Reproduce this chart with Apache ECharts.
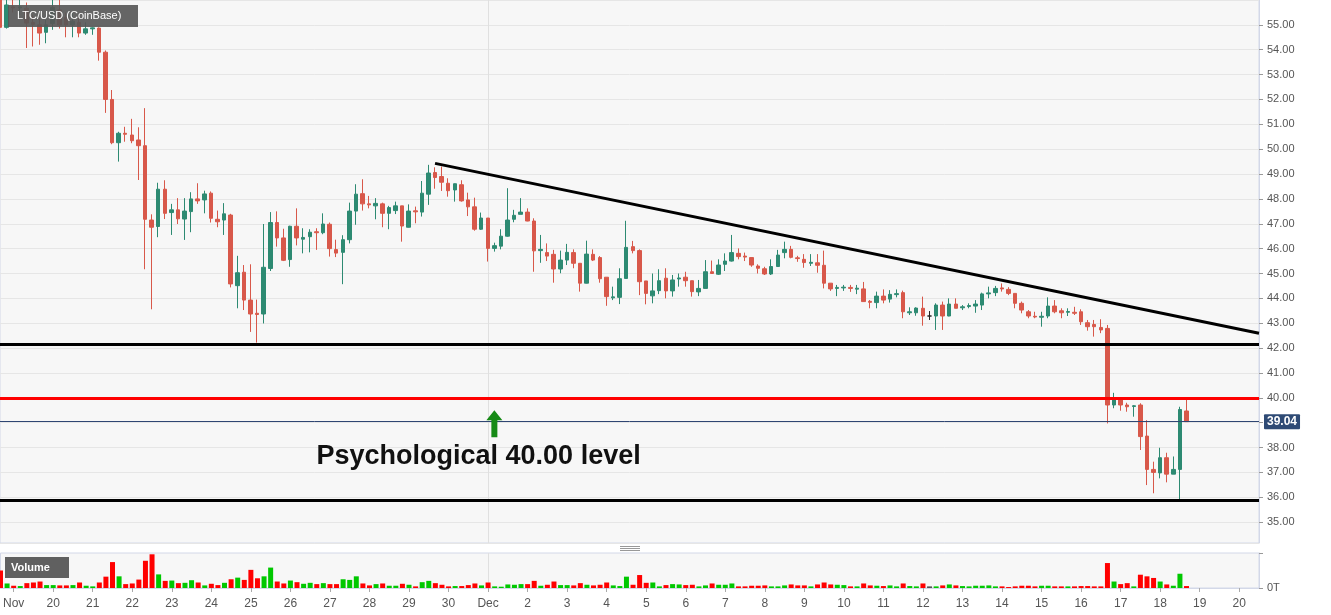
<!DOCTYPE html>
<html><head><meta charset="utf-8">
<script src="https://cdn.jsdelivr.net/npm/echarts@6/dist/echarts.min.js"></script>
<style>html,body{margin:0;padding:0;background:#fff}#c{width:1331px;height:615px}</style>
</head><body><div id="c"></div>
<script>
// ---- tick labels (one per day, Nov 19 .. Dec 20) ----
const dayLabels = ['Nov','20','21','22','23','24','25','26','27','28','29','30',
  'Dec','2','3','4','5','6','7','8','9','10','11','12','13','14','15','16','17','18','19','20'];

// ---- 4-hour candles, first candle = Nov 18 16:00, last = Dec 18 16:00 ----
const opens = [
  56.0, 54.9,
  55.72, 55.68, 55.67, 55.1, 55.0, 54.7,
  55.05, 55.6, 55.3, 55.0, 55.1, 54.67,
  54.84, 54.87, 53.9, 52.0, 50.26, 50.64,
  50.57, 50.37, 50.14, 47.15, 46.89, 48.39,
  47.45, 47.56, 47.19, 47.49, 48.0, 47.96,
  48.23, 47.18, 47.15, 47.35, 44.51, 45.05,
  43.93, 43.4, 43.37, 45.2, 47.05, 46.43,
  45.56, 46.9, 46.38, 46.48, 46.68, 46.64,
  46.98, 45.96, 45.85, 46.36, 47.51, 48.21,
  47.8, 47.72, 47.8, 47.42, 47.53, 47.72,
  46.86, 47.52, 47.47, 48.19, 49.06, 48.9,
  48.63, 48.36, 48.57, 47.96, 47.68, 46.78,
  47.23, 46.01, 46.1, 46.5, 47.18, 47.38,
  47.47, 47.11, 45.92, 45.84, 45.77, 45.18,
  45.54, 45.84, 45.41, 44.61, 45.77, 45.64,
  44.85, 44.02, 44.04, 44.8, 46.08, 45.92,
  44.7, 44.1, 44.31, 44.81, 44.3, 44.78,
  44.85, 44.71, 44.26, 44.4, 45.07, 44.97,
  45.37, 45.5, 45.81, 45.7, 45.64, 45.3,
  45.19, 44.98, 45.28, 45.84, 45.97, 45.63,
  45.57, 45.41, 45.43, 45.33, 44.61, 44.4,
  44.42, 44.44, 44.37, 44.38, 43.88, 43.83,
  44.09, 43.97, 44.15, 44.23, 43.42, 43.42,
  43.6, 43.29, 43.29, 43.73, 43.29, 43.77,
  43.62, 43.67, 43.69, 43.73, 44.18, 44.23,
  44.42, 44.36, 44.2, 43.8, 43.46, 43.28,
  43.24, 43.29, 43.69, 43.5, 43.44, 43.44,
  43.46, 43.02, 42.95, 42.83, 42.79, 39.71,
  39.91, 39.71, 39.65, 39.71, 38.46, 37.12,
  36.98, 37.59, 36.93, 37.12, 39.47
];
const closes = [
  54.9, 55.8,
  55.68, 55.72, 55.07, 55.02, 54.67, 55.0,
  55.7, 55.0, 55.0, 55.15, 54.67, 54.84,
  54.88, 53.9, 52.0, 50.26, 50.64, 50.6,
  50.34, 50.14, 47.18, 46.86, 48.39, 47.42,
  47.56, 47.2, 47.51, 48.0, 47.92, 48.2,
  47.22, 47.08, 47.4, 44.58, 45.03, 43.93,
  43.37, 43.35, 45.25, 47.05, 46.43, 45.53,
  46.9, 46.43, 46.45, 46.66, 46.64, 46.99,
  46.0, 45.82, 46.36, 47.51, 48.19, 47.8,
  47.76, 47.82, 47.42, 47.65, 47.72, 46.91,
  47.51, 47.48, 48.23, 49.04, 48.86, 48.67,
  48.33, 48.61, 47.92, 47.68, 46.78, 47.23,
  46.01, 46.12, 46.5, 47.15, 47.34, 47.47,
  47.11, 45.91, 45.97, 45.7, 45.18, 45.54,
  45.85, 45.41, 44.61, 45.78, 45.54, 44.79,
  44.07, 44.06, 44.79, 46.05, 45.92, 44.67,
  44.2, 44.3, 44.71, 44.3, 44.74, 44.82,
  44.71, 44.27, 44.4, 45.07, 45.0, 45.34,
  45.5, 45.84, 45.68, 45.66, 45.34, 45.21,
  44.98, 45.28, 45.74, 45.97, 45.65, 45.6,
  45.44, 45.45, 45.33, 44.61, 44.38, 44.44,
  44.45, 44.4, 44.41, 43.87, 43.84, 44.09,
  43.93, 44.16, 44.19, 43.46, 43.46, 43.61,
  43.29, 43.29, 43.73, 43.29, 43.77, 43.6,
  43.66, 43.71, 43.77, 44.18, 44.22, 44.4,
  44.38, 44.2, 43.8, 43.53, 43.29, 43.25,
  43.28, 43.69, 43.46, 43.42, 43.47, 43.4,
  43.06, 42.86, 42.86, 42.73, 39.71, 39.91,
  39.71, 39.64, 39.68, 38.44, 37.12, 37.0,
  37.59, 36.93, 37.12, 39.53, 39.04
];
const lows = [
  53.9, 54.85,
  55.5, 55.4, 54.07, 54.13, 54.2, 54.26,
  54.8, 54.85, 54.5, 54.5, 54.5, 54.6,
  54.6, 53.56, 51.46, 50.2, 49.5, 50.3,
  50.24, 48.76, 45.17, 43.56, 46.46, 47.19,
  46.55, 46.99, 46.35, 46.66, 47.8, 47.42,
  47.05, 46.86, 46.55, 44.44, 43.6, 43.53,
  42.65, 42.22, 42.99, 45.1, 46.08, 45.5,
  45.27, 46.13, 45.81, 45.85, 45.95, 46.58,
  45.68, 45.66, 44.57, 46.21, 46.96, 47.53,
  47.62, 47.18, 46.86, 46.78, 47.39, 46.28,
  46.85, 47.02, 47.29, 47.76, 48.41, 48.32,
  48.09, 47.89, 47.89, 47.31, 46.72, 46.75,
  45.48, 45.88, 45.97, 46.48, 47.06, 47.38,
  47.1, 45.07, 45.43, 45.5, 44.63, 45.01,
  45.34, 45.21, 44.27, 44.6, 45.5, 44.63,
  43.7, 43.93, 43.77, 44.8, 45.81, 44.13,
  43.76, 43.8, 44.17, 44.0, 44.07, 44.47,
  44.47, 44.07, 44.09, 44.4, 45.0, 44.94,
  45.1, 45.48, 45.57, 45.5, 45.27, 45.0,
  44.94, 44.94, 45.28, 45.61, 45.61, 45.47,
  45.23, 45.3, 45.03, 44.4, 44.3, 44.09,
  44.3, 44.26, 44.17, 43.87, 43.6, 43.6,
  43.8, 43.83, 44.04, 43.2, 43.33, 43.3,
  42.9, 43.13, 42.73, 42.73, 43.28, 43.6,
  43.53, 43.6, 43.42, 43.53, 44.0, 44.09,
  44.27, 44.13, 43.6, 43.4, 43.2, 43.2,
  42.86, 43.2, 43.4, 43.2, 43.29, 43.33,
  42.93, 42.7, 42.46, 42.6, 38.97, 39.58,
  39.48, 39.44, 39.24, 37.9, 36.49, 36.16,
  36.76, 36.6, 36.93, 35.88, 39.04
];
const highs = [
  56.3, 56.0,
  56.1, 56.1, 55.9, 55.4, 55.3, 55.2,
  56.1, 56.1, 55.5, 55.5, 55.3, 55.1,
  54.9, 54.9, 53.97, 52.38, 50.7, 50.9,
  51.22, 50.88, 51.65, 47.38, 48.65, 48.75,
  47.8, 48.03, 48.03, 48.27, 48.63, 48.33,
  48.3, 47.53, 47.83, 47.4, 45.71, 45.34,
  45.37, 43.95, 46.99, 47.47, 47.5, 46.8,
  46.92, 47.62, 46.82, 46.78, 46.82, 47.42,
  47.05, 46.36, 46.54, 47.85, 48.59, 48.79,
  48.12, 48.03, 47.85, 47.72, 47.89, 47.72,
  47.78, 47.69, 48.72, 49.37, 49.27, 49.3,
  48.83, 48.62, 48.75, 48.25, 48.05, 47.45,
  47.23, 46.24, 46.78, 48.43, 47.56, 48.03,
  47.62, 47.22, 46.55, 46.21, 45.95, 45.92,
  46.19, 45.97, 45.41, 46.32, 45.97, 45.7,
  44.85, 44.47, 45.21, 47.12, 46.31, 45.97,
  44.7, 45.0, 45.17, 45.21, 44.94, 45.0,
  45.07, 44.71, 44.74, 45.54, 45.52, 45.57,
  45.81, 46.55, 46.01, 45.84, 45.64, 45.37,
  45.27, 45.57, 45.95, 46.28, 46.11, 45.71,
  45.78, 45.78, 45.78, 45.92, 44.61, 44.54,
  44.54, 44.54, 44.54, 44.66, 43.93, 44.27,
  44.36, 44.33, 44.36, 44.31, 43.64, 43.64,
  44.07, 43.49, 43.8, 43.87, 44.0, 44.0,
  43.73, 43.8, 43.93, 44.23, 44.47, 44.5,
  44.6, 44.45, 44.2, 43.87, 43.53, 43.46,
  43.46, 44.04, 43.93, 43.6, 43.6, 43.66,
  43.56, 43.13, 43.13, 43.16, 42.93, 40.2,
  39.99, 39.8, 39.71, 39.78, 39.1, 37.43,
  37.99, 37.79, 37.64, 39.64, 40.03
];
const volumes = [
  54, 14,
  7, 6, 15, 17, 20, 9,
  9, 8, 8, 9, 17, 7,
  5, 17, 35, 80, 36, 12,
  14, 26, 84, 104, 42, 22,
  23, 15, 16, 24, 17, 8,
  13, 9, 16, 27, 32, 25,
  56, 30, 36, 63, 20, 14,
  23, 18, 13, 16, 12, 15,
  12, 12, 27, 25, 36, 14,
  8, 12, 14, 7, 7, 13,
  10, 5, 18, 22, 15, 10,
  5, 6, 6, 9, 14, 8,
  17, 5, 4, 11, 10, 12,
  12, 22, 7, 10, 20, 9,
  9, 8, 15, 10, 8, 10,
  17, 8, 6, 35, 10, 40,
  16, 17, 5, 9, 12, 11,
  9, 10, 5, 8, 14, 10,
  10, 14, 5, 5, 7, 7,
  8, 5, 5, 8, 11, 8,
  8, 5, 11, 17, 11, 10,
  9, 5, 5, 14, 8, 7,
  6, 8, 5, 14, 6, 5,
  14, 5, 5, 8, 11, 8,
  6, 5, 7, 7, 8, 5,
  5, 3, 5, 7, 7, 5,
  7, 7, 5, 5, 5, 5,
  6, 6, 5, 5, 77, 20,
  12, 15, 5, 41, 36, 31,
  20, 11, 7, 44, 6
];

// ---- annotation levels ----
const supportHigh = 42.17;
const psychLevel = 40.0;
const supportLow = 35.86;
const lastPrice = 39.04;
const trendFrom = [64, 49.43];   // [candle index, price]
const trendTo = [189, 42.6];
const arrowAt = [73, 38.96];
const textAt = [70, 37.62];

// ---- axis categories: 4h slots from Nov 18 16:00 to Dec 20 12:00 ----
const FIRST = -2, LAST = 189;
const categories = [];
for (let i = FIRST; i <= LAST; i++) {
  const t = new Date(Date.UTC(2019, 10, 19) + i * 4 * 3600e3);
  categories.push((t.getUTCMonth() + 1) + '/' + t.getUTCDate() + ' ' + String(t.getUTCHours()).padStart(2, '0') + ':00');
}
const idx = i => i - FIRST;
const isDay = k => (k + FIRST) % 6 === 0 && (k + FIRST) >= 0;
const decIdx = idx(72);

const UP = '#2d8a72', DOWN = '#d8584a';
const candleData = opens.map((o, k) => [o, closes[k], lows[k], highs[k]]);
const volData = volumes.map((v, k) => ({
  value: v,
  itemStyle: { color: closes[k] > opens[k] ? '#00c800' : (closes[k] < opens[k] ? '#ff0000' : '#555') }
}));

const FONT = '"Liberation Sans", Arial, sans-serif';
const chart = echarts.init(document.getElementById('c'), null, { renderer: 'canvas' });
chart.setOption({
  animation: false,
  backgroundColor: '#ffffff',
  textStyle: { fontFamily: FONT },
  grid: [
    { left: 0, top: 0, width: 1259, height: 543, show: true, backgroundColor: '#f7f7f7', borderColor: '#d3d8e8', borderWidth: 1 },
    { left: 0, top: 553, width: 1259, height: 35, show: true, backgroundColor: '#f7f7f7', borderColor: '#d3d8e8', borderWidth: 1 }
  ],
  xAxis: [
    { gridIndex: 0, type: 'category', data: categories, boundaryGap: false,
      axisLine: { show: false }, axisTick: { show: false }, axisLabel: { show: false },
      splitLine: { show: true, interval: k => k === decIdx, lineStyle: { color: '#e0e0e0', width: 1 } } },
    { gridIndex: 1, type: 'category', data: categories, boundaryGap: false,
      axisLine: { show: true, lineStyle: { color: '#d3d8e8' } },
      axisTick: { show: true, interval: k => isDay(k), length: 4, lineStyle: { color: '#aaa' } },
      axisLabel: { show: true, interval: k => isDay(k), margin: 10, fontSize: 12, color: '#555', fontFamily: FONT,
        formatter: (v, k) => dayLabels[(k + FIRST) / 6] || '' },
      splitLine: { show: true, interval: k => k === decIdx, lineStyle: { color: '#e0e0e0', width: 1 } } }
  ],
  yAxis: [
    { gridIndex: 0, type: 'value', position: 'right', min: 34.16, max: 56.0, splitNumber: 22, minInterval: 1, maxInterval: 1,
      axisLine: { show: true, lineStyle: { color: '#d3d8e8' } },
      axisTick: { show: true, length: 4, lineStyle: { color: '#999' } },
      axisLabel: { show: true, margin: 8, fontSize: 11, color: '#555', fontFamily: FONT, showMinLabel: false, showMaxLabel: false,
        formatter: v => (Math.abs(v - Math.round(v)) < 1e-6 ? v.toFixed(2) : '') },
      splitLine: { show: true, lineStyle: { color: '#e6e6e6', width: 1 } } },
    { gridIndex: 1, type: 'value', position: 'right', min: 0, max: 108, interval: 108,
      axisLine: { show: true, lineStyle: { color: '#d3d8e8' } },
      axisTick: { show: true, length: 4, lineStyle: { color: '#999' } },
      axisLabel: { show: true, margin: 8, fontSize: 11, color: '#555', fontFamily: FONT, formatter: v => (v === 0 ? '0T' : '') },
      splitLine: { show: false } }
  ],
  series: [
    { type: 'candlestick', xAxisIndex: 0, yAxisIndex: 0, data: candleData, barWidth: 4, clip: true,
      itemStyle: { color: UP, color0: DOWN, borderColor: UP, borderColor0: DOWN, borderColorDoji: '#222', borderWidth: 1 },
      markLine: {
        silent: true, symbol: ['none', 'none'], animation: false,
        label: { show: false },
        data: [
          { yAxis: lastPrice, lineStyle: { color: '#2f4673', width: 1, type: 'solid' },
            label: { show: true, position: 'end', distance: 5, formatter: lastPrice.toFixed(2), backgroundColor: '#2f4b75',
              color: '#fff', fontWeight: 'bold', fontSize: 12, fontFamily: FONT, padding: [2, 3, 1, 3], borderRadius: 1 } },
          { yAxis: supportHigh, lineStyle: { color: '#000', width: 3, type: 'solid' } },
          { yAxis: psychLevel, lineStyle: { color: '#ff0000', width: 3, type: 'solid' } },
          { yAxis: supportLow, lineStyle: { color: '#000', width: 3, type: 'solid' } },
          [ { coord: [idx(trendFrom[0]), trendFrom[1]] }, { coord: [idx(trendTo[0]), trendTo[1]], lineStyle: { color: '#000', width: 3, type: 'solid' } } ]
        ]
      },
      markPoint: {
        silent: true, animation: false,
        data: [
          { coord: [idx(arrowAt[0]), arrowAt[1]], symbol: 'path://M8,0 L16,10 L11,10 L11,27 L5,27 L5,10 L0,10 Z',
            symbolSize: [16, 27], itemStyle: { color: '#168a16' }, label: { show: false } },
          { coord: [idx(textAt[0]), textAt[1]], symbol: 'rect', symbolSize: 1, itemStyle: { color: 'rgba(0,0,0,0)' },
            label: { show: true, position: 'inside', offset: [4, 0], formatter: 'Psychological 40.00 level',
              fontSize: 27, fontWeight: 'bold', color: '#111', fontFamily: FONT } }
        ]
      }
    },
    { type: 'bar', xAxisIndex: 1, yAxisIndex: 1, data: volData, barWidth: 5, clip: true }
  ],
  graphic: [
    { type: 'rect', shape: { x: 8, y: 5, width: 130, height: 22 }, style: { fill: 'rgba(88,88,88,0.92)' }, z: 100 },
    { type: 'text', x: 17, y: 16, z: 101, style: { text: 'LTC/USD (CoinBase)', fill: '#fff', font: '11px ' + FONT, verticalAlign: 'middle' } },
    { type: 'rect', shape: { x: 5, y: 557, width: 64, height: 21 }, style: { fill: '#606060' }, z: 100 },
    { type: 'text', x: 11, y: 568, z: 101, style: { text: 'Volume', fill: '#fff', font: 'bold 11px ' + FONT, verticalAlign: 'middle' } },
    { type: 'line', shape: { x1: 620, y1: 546.5, x2: 640, y2: 546.5 }, style: { stroke: '#999', lineWidth: 1 }, z: 100 },
    { type: 'line', shape: { x1: 620, y1: 548.5, x2: 640, y2: 548.5 }, style: { stroke: '#999', lineWidth: 1 }, z: 100 },
    { type: 'line', shape: { x1: 620, y1: 550.5, x2: 640, y2: 550.5 }, style: { stroke: '#999', lineWidth: 1 }, z: 100 }
  ]
});
</script>
</body></html>
